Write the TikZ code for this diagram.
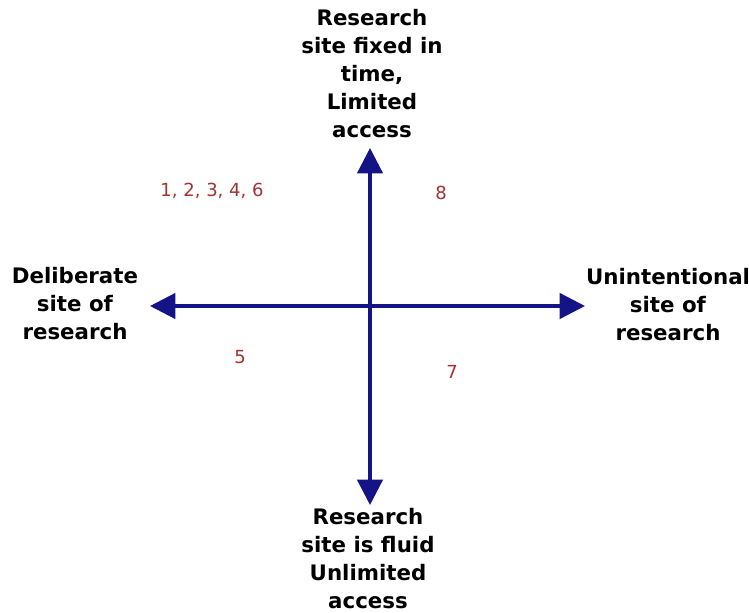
\documentclass[tikz,border=0pt]{standalone}
\usepackage{fontspec}
\setmainfont{DejaVu Sans}
\usetikzlibrary{arrows.meta}
\definecolor{axisblue}{RGB}{20,20,135}
\definecolor{numred}{RGB}{165,50,50}

\begin{document}
\begin{tikzpicture}
[x=0.75pt,y=-0.75pt,
  labeldecorate/.style={align=center,font=\bfseries\fontsize{16}{21}\selectfont,text=black,inner sep=0pt},%
  numdecorate/.style={font=\fontsize{13.5}{15}\selectfont,text=numred,inner sep=0pt},%
  axisdecorate/.style={draw=axisblue,line width=2.4pt,-{Triangle[length=19pt,width=19pt]}}]
\useasboundingbox (0,0) rectangle (749,613);
%% centre and axis ends
\coordinate (c) at (370,306);
\foreach \nodename/\x/\y in {north/370/148, south/370/505, west/150/306, east/585/306}
{
  \coordinate (\nodename) at (\x,\y);
}
%% axes
\foreach \endnode in {north, south, west, east}
{
  \draw[axisdecorate] (c) -- (\endnode);
}
%% pole labels
\node (fixed) at (372,74) [labeldecorate] {Research\\site fixed in\\time,\\Limited\\access};
\node (fluid) at (368,559) [labeldecorate] {Research\\site is fluid\\Unlimited\\access};
\node (deliberate) at (75,304) [labeldecorate] {Deliberate\\site of\\research};
\node (unintentional) at (668,305) [labeldecorate] {Unintentional\\site of\\research};
%% case numbers
\foreach \nodename/\x/\y/\txt in {ul/212/191/{1, 2, 3, 4, 6}, ur/441/193/8,
  ll/240/357/5, lr/452/372/7}
{
  \node (\nodename) at (\x,\y) [numdecorate] {\txt};
}
\end{tikzpicture}
\end{document}
